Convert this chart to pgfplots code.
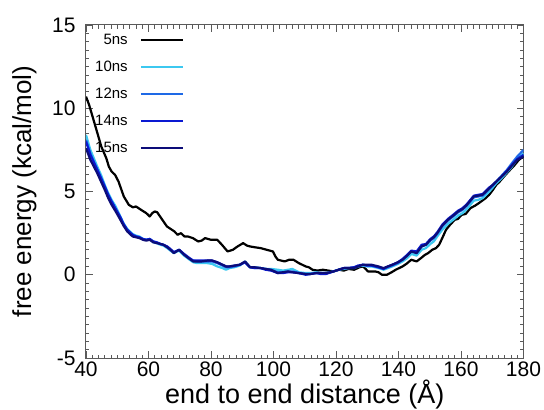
\documentclass[border=0pt]{standalone}
\usepackage{fontspec}
\setmainfont{Liberation Sans}
\usepackage{pgfplots}
\pgfplotsset{compat=1.18}
\definecolor{c5}{RGB}{0,0,0}
\definecolor{c10}{RGB}{60,200,240}
\definecolor{c12}{RGB}{30,105,230}
\definecolor{c14}{RGB}{10,25,210}
\definecolor{c15}{RGB}{12,12,120}
\definecolor{axgray}{RGB}{90,90,90}
\begin{document}
\begin{tikzpicture}
\path[use as bounding box] (-86pt,-52pt) rectangle (458pt,358pt);
\begin{axis}[
  scale only axis,
  width=437.5pt, height=333pt,
  xmin=40, xmax=180, ymin=-5, ymax=15,
  xtick={40,60,...,180}, ytick={-5,0,5,10,15},
  minor x tick num=9, minor y tick num=9,
  major tick length=7pt, minor tick length=3.5pt,
  tick style={axgray, line width=0.8pt},
  axis line style={axgray, line width=1pt},
  tick align=inside,
  /pgf/number format/assume math mode=true,
  ticklabel style={font=\fontsize{21}{25}\selectfont},
  yticklabel style={xshift=-7pt},
  xlabel={end to end distance (Å)},
  ylabel={free energy (kcal/mol)},
  every axis x label/.style={at={(axis description cs:0.5,-0.111)}, anchor=center, font=\fontsize{27}{31}\selectfont},
  every axis y label/.style={at={(axis description cs:-0.1406,0.5)}, rotate=90, anchor=center, font=\fontsize{26}{30}\selectfont},
  legend style={at={(axis cs:71.4,14.45)}, anchor=north east, draw=none, fill=none,
    font=\fontsize{15}{17}\selectfont, row sep=15pt, inner sep=0pt,
    nodes={inner sep=0pt}, column sep=12pt},
  legend cell align=right,
  legend plot pos=right,
  legend image code/.code={\draw[#1] (0pt,0pt) -- (42pt,0pt);},
  every axis plot/.append style={line width=2.2pt, line join=round},
]
\addplot[c5] coordinates {
(40,10.7)(41,10.2)(42.1,9.5)(43.5,8.6)(44.9,7.7)(46.5,7.0)(47.3,6.5)(48.2,6.2)(49.3,6.0)(50.4,5.6)(52.1,4.7)(53.7,4.2)(55,4.05)(56,4.1)(57.6,3.9)(59.3,3.7)(60.4,3.5)(61.2,3.7)(62,3.8)(62.8,3.75)(63.7,3.5)(65.9,2.9)(67.5,2.7)(68.3,2.6)(69.3,2.4)(70.4,2.5)(71.5,2.3)(72.6,2.3)(74.2,2.2)(75.9,2.0)(77,2.05)(78.1,2.2)(80,2.1)(82,2.1)(83.5,1.8)(85.3,1.4)(87,1.5)(88.5,1.7)(90.3,1.9)(91.5,1.75)(92.5,1.7)(94,1.65)(95.9,1.6)(97.8,1.5)(99.8,1.4)(100.6,1.1)(101.4,0.9)(103.6,0.8)(105,0.9)(106.4,0.9)(108.1,0.7)(110.3,0.5)(111.3,0.45)(112.5,0.3)(114,0.25)(115.8,0.3)(117.5,0.25)(119.2,0.2)(121,0.3)(122.5,0.25)(124,0.35)(125.8,0.3)(127.5,0.45)(128.6,0.5)(129.5,0.35)(130.2,0.2)(132.5,0.2)(133.6,0.15)(134.7,0.0)(136.3,0.0)(137.8,0.15)(139.1,0.3)(141.3,0.5)(142.5,0.65)(144.1,0.9)(145.8,0.8)(147.2,1.0)(148.5,1.2)(149.5,1.3)(150.8,1.5)(152,1.6)(153,1.8)(154,2.2)(155.2,2.7)(156.5,3.0)(158,3.3)(159,3.35)(160.2,3.6)(161.5,3.65)(163,4.0)(164.5,4.15)(165.7,4.3)(167.9,4.6)(169,4.8)(170.2,5.1)(171.3,5.4)(172.4,5.6)(174,5.95)(175.7,6.3)(177,6.55)(178.5,6.9)(180,7.1)
};
\addlegendentry{5ns}
\addplot[c10] coordinates {
(40,8.4)(41.4,7.5)(42.5,7.0)(43.6,6.5)(44.8,6.0)(46,5.4)(47,4.95)(48.2,4.5)(49.5,4.1)(51,3.5)(52,3.1)(53.2,2.75)(54.9,2.45)(56,2.35)(57.1,2.3)(58.2,2.15)(59.3,2.1)(60.4,2.15)(61.5,1.95)(62.6,1.9)(63.8,1.8)(64.8,1.75)(66,1.6)(67,1.45)(68.1,1.3)(69.8,1.45)(71.4,1.15)(72.8,0.95)(74.3,0.75)(75.5,0.7)(77,0.7)(78.8,0.7)(80.4,0.65)(82,0.5)(83.7,0.4)(84.8,0.3)(85.9,0.4)(87.5,0.45)(89.2,0.55)(90.9,0.8)(92.5,0.45)(94,0.45)(95.9,0.4)(97.5,0.35)(99.2,0.35)(101.4,0.3)(103,0.25)(104.7,0.3)(106,0.35)(108.1,0.15)(110.3,0.1)(112,0.1)(113.6,0.15)(115,0.1)(116.9,0.1)(119.2,0.2)(120.8,0.3)(122.5,0.35)(124,0.4)(125.8,0.4)(127,0.5)(128.6,0.55)(130,0.5)(131.4,0.5)(133.6,0.4)(135.2,0.3)(136.6,0.4)(138,0.5)(139.8,0.65)(141.3,0.8)(142.8,1.0)(144.1,1.25)(145.8,1.15)(147.4,1.5)(148.8,1.6)(150.2,1.85)(151.3,2.0)(152.4,2.3)(154,2.7)(155.8,3.05)(157.5,3.3)(159.1,3.55)(160.5,3.7)(161.9,3.95)(163,4.2)(164.1,4.45)(165.5,4.5)(166.9,4.6)(168,4.8)(169.1,5.0)(170.2,5.25)(171.3,5.5)(173,5.8)(174.7,6.15)(176.3,6.5)(178,6.95)(180,7.3)
};
\addlegendentry{10ns}
\addplot[c12] coordinates {
(40,8.1)(41.4,7.3)(42.5,6.8)(43.6,6.35)(44.8,5.85)(46,5.3)(47,4.85)(48.2,4.4)(49.5,3.95)(51,3.45)(52,3.05)(53.2,2.7)(54.9,2.4)(56,2.3)(57.1,2.25)(58.2,2.15)(59.3,2.1)(60.4,2.15)(61.5,2.0)(62.6,1.95)(63.8,1.85)(64.8,1.8)(66,1.65)(67,1.5)(68.1,1.35)(69.8,1.5)(71.4,1.2)(72.8,1.0)(74.3,0.85)(75.5,0.8)(77,0.8)(78.8,0.8)(80.4,0.8)(82,0.7)(83.7,0.55)(84.8,0.45)(85.9,0.45)(87.5,0.5)(89.2,0.6)(90.9,0.75)(92.5,0.45)(94,0.4)(95.9,0.4)(97.5,0.35)(99.2,0.3)(101.4,0.15)(103,0.15)(104.7,0.2)(106,0.2)(108.1,0.1)(110.3,0.05)(112,0.05)(113.6,0.1)(115,0.1)(116.9,0.1)(119.2,0.2)(120.8,0.3)(122.5,0.4)(124,0.4)(125.8,0.45)(127,0.5)(128.6,0.6)(130,0.55)(131.4,0.55)(133.6,0.45)(135.2,0.35)(136.6,0.45)(138,0.55)(139.8,0.7)(141.3,0.9)(142.8,1.15)(144.1,1.4)(145.8,1.3)(147.4,1.7)(148.8,1.8)(150.2,2.05)(151.3,2.2)(152.4,2.45)(154,2.9)(155.8,3.25)(157.5,3.5)(159.1,3.75)(160.5,3.9)(161.9,4.15)(163,4.4)(164.1,4.65)(165.5,4.7)(166.9,4.75)(168,4.95)(169.1,5.15)(170.2,5.35)(171.3,5.6)(173,5.95)(174.7,6.3)(176.3,6.7)(178,7.1)(180,7.5)
};
\addlegendentry{12ns}
\addplot[c14] coordinates {
(40,8.0)(41.4,7.2)(42.5,6.75)(43.6,6.3)(44.8,5.8)(46,5.3)(47,4.85)(48.2,4.4)(49.5,3.95)(51,3.45)(52,3.05)(53.2,2.7)(54.9,2.4)(56,2.3)(57.1,2.25)(58.2,2.15)(59.3,2.1)(60.4,2.15)(61.5,2.0)(62.6,1.95)(63.8,1.85)(64.8,1.8)(66,1.7)(67,1.55)(68.1,1.35)(69.8,1.5)(71.4,1.25)(72.8,1.05)(74.3,0.85)(75.5,0.85)(77,0.85)(78.8,0.85)(80.4,0.85)(82,0.75)(83.7,0.6)(84.8,0.5)(85.9,0.5)(87.5,0.55)(89.2,0.6)(90.9,0.75)(92.5,0.45)(94,0.4)(95.9,0.4)(97.5,0.3)(99.2,0.25)(101.4,0.1)(103,0.1)(104.7,0.15)(106,0.15)(108.1,0.1)(110.3,0.0)(112,0.05)(113.6,0.1)(115,0.05)(116.9,0.05)(119.2,0.2)(120.8,0.3)(122.5,0.4)(124,0.4)(125.8,0.45)(127,0.55)(128.6,0.6)(130,0.55)(131.4,0.55)(133.6,0.45)(135.2,0.35)(136.6,0.5)(138,0.6)(139.8,0.75)(141.3,0.95)(142.8,1.2)(144.1,1.45)(145.8,1.4)(147.4,1.8)(148.8,1.85)(150.2,2.15)(151.3,2.3)(152.4,2.55)(154,3.0)(155.8,3.35)(157.5,3.6)(159.1,3.85)(160.5,4.0)(161.9,4.25)(163,4.5)(164.1,4.75)(165.5,4.8)(166.9,4.85)(168,5.05)(169.1,5.25)(170.2,5.4)(171.3,5.6)(173,5.9)(174.7,6.25)(176.3,6.6)(178,6.95)(180,7.2)
};
\addlegendentry{14ns}
\addplot[c15] coordinates {
(40,7.6)(41.4,6.9)(42.5,6.5)(43.6,6.1)(44.8,5.6)(46,5.1)(47,4.65)(48.2,4.2)(49.5,3.8)(51,3.3)(52,2.95)(53.2,2.6)(54.9,2.3)(56,2.25)(57.1,2.2)(58.2,2.1)(59.3,2.05)(60.4,2.1)(61.5,1.95)(62.6,1.9)(63.8,1.85)(64.8,1.8)(66,1.65)(67,1.5)(68.1,1.3)(69.8,1.5)(71.4,1.2)(72.8,1.0)(74.3,0.8)(75.5,0.8)(77,0.8)(78.8,0.85)(80.4,0.85)(82,0.75)(83.7,0.6)(84.8,0.5)(85.9,0.5)(87.5,0.55)(89.2,0.6)(90.9,0.8)(92.5,0.45)(94,0.45)(95.9,0.4)(97.5,0.35)(99.2,0.3)(101.4,0.1)(103,0.15)(104.7,0.2)(106,0.15)(108.1,0.1)(110.3,0.05)(112,0.05)(113.6,0.1)(115,0.1)(116.9,0.1)(119.2,0.2)(120.8,0.3)(122.5,0.4)(124,0.4)(125.8,0.4)(127,0.5)(128.6,0.6)(130,0.6)(131.4,0.6)(133.6,0.5)(135.2,0.4)(136.6,0.5)(138,0.6)(139.8,0.75)(141.3,0.9)(142.8,1.15)(144.1,1.4)(145.8,1.3)(147.4,1.7)(148.8,1.8)(150.2,2.1)(151.3,2.25)(152.4,2.5)(154,2.95)(155.8,3.3)(157.5,3.55)(159.1,3.8)(160.5,3.95)(161.9,4.2)(163,4.45)(164.1,4.7)(165.5,4.75)(166.9,4.8)(168,5.0)(169.1,5.2)(170.2,5.4)(171.3,5.6)(173,5.9)(174.7,6.2)(176.3,6.55)(178,6.9)(180,7.1)
};
\addlegendentry{15ns}
\end{axis}
\end{tikzpicture}
\end{document}
